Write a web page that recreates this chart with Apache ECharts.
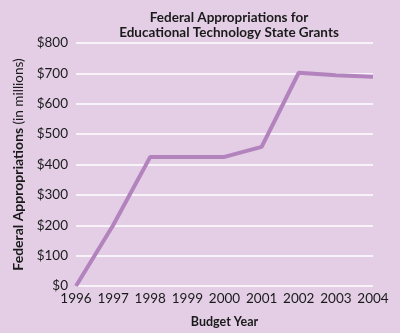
<!DOCTYPE html>
<html><head><meta charset="utf-8">
<script src="https://cdn.jsdelivr.net/npm/echarts@6/dist/echarts.min.js"></script>
<style>html,body{margin:0;padding:0;background:#e3cee5}#c{width:400px;height:333px}</style>
</head><body><div id="c"></div>
<script>
const years = ['1996','1997','1998','1999','2000','2001','2002','2003','2004'];
const appropriations = [0, 200, 425, 425, 425, 458, 702, 694, 689];
const yTicks = [0, 100, 200, 300, 400, 500, 600, 700, 800];
const chart = echarts.init(document.getElementById('c'));
const font = 'Lato, "Open Sans", sans-serif';
chart.setOption({
  backgroundColor: '#e3cee5',
  animation: false,
  title: {
    text: 'Federal Appropriations for\nEducational Technology State Grants',
    left: 224, top: 5, textAlign: 'center',
    textStyle: {fontFamily: font, fontSize: 13.5, fontWeight: 'bold', color: '#1a1a1a', lineHeight: 15}
  },
  grid: {left: 76, right: 27, top: 43, bottom: 47},
  xAxis: {
    type: 'category', data: years, boundaryGap: false,
    axisLine: {show: false}, axisTick: {show: false},
    axisLabel: {fontFamily: font, fontSize: 13.5, color: '#1a1a1a', margin: 6, interval: 0},
    name: 'Budget Year', nameLocation: 'middle', nameGap: 29,
    nameTextStyle: {fontFamily: font, fontSize: 12.5, fontWeight: 'bold', color: '#1a1a1a'}
  },
  yAxis: {
    type: 'value', min: yTicks[0], max: yTicks[yTicks.length-1], interval: 100,
    axisLine: {show: false}, axisTick: {show: false},
    splitLine: {lineStyle: {color: '#ffffff', width: 1.5}},
    axisLabel: {fontFamily: font, fontSize: 13.5, color: '#1a1a1a', margin: 8, formatter: v => '$' + v},
    name: '{b|Federal Appropriations} {r|(in millions)}', nameLocation: 'middle', nameGap: 47,
    nameTextStyle: {rich: {
      b: {fontFamily: font, fontSize: 14, fontWeight: 'bold', color: '#1a1a1a'},
      r: {fontFamily: font, fontSize: 13.5, color: '#1a1a1a'}
    }}
  },
  series: [{
    type: 'line', data: appropriations, symbol: 'none',
    lineStyle: {color: '#b283bd', width: 4}
  }]
});
</script></body></html>
